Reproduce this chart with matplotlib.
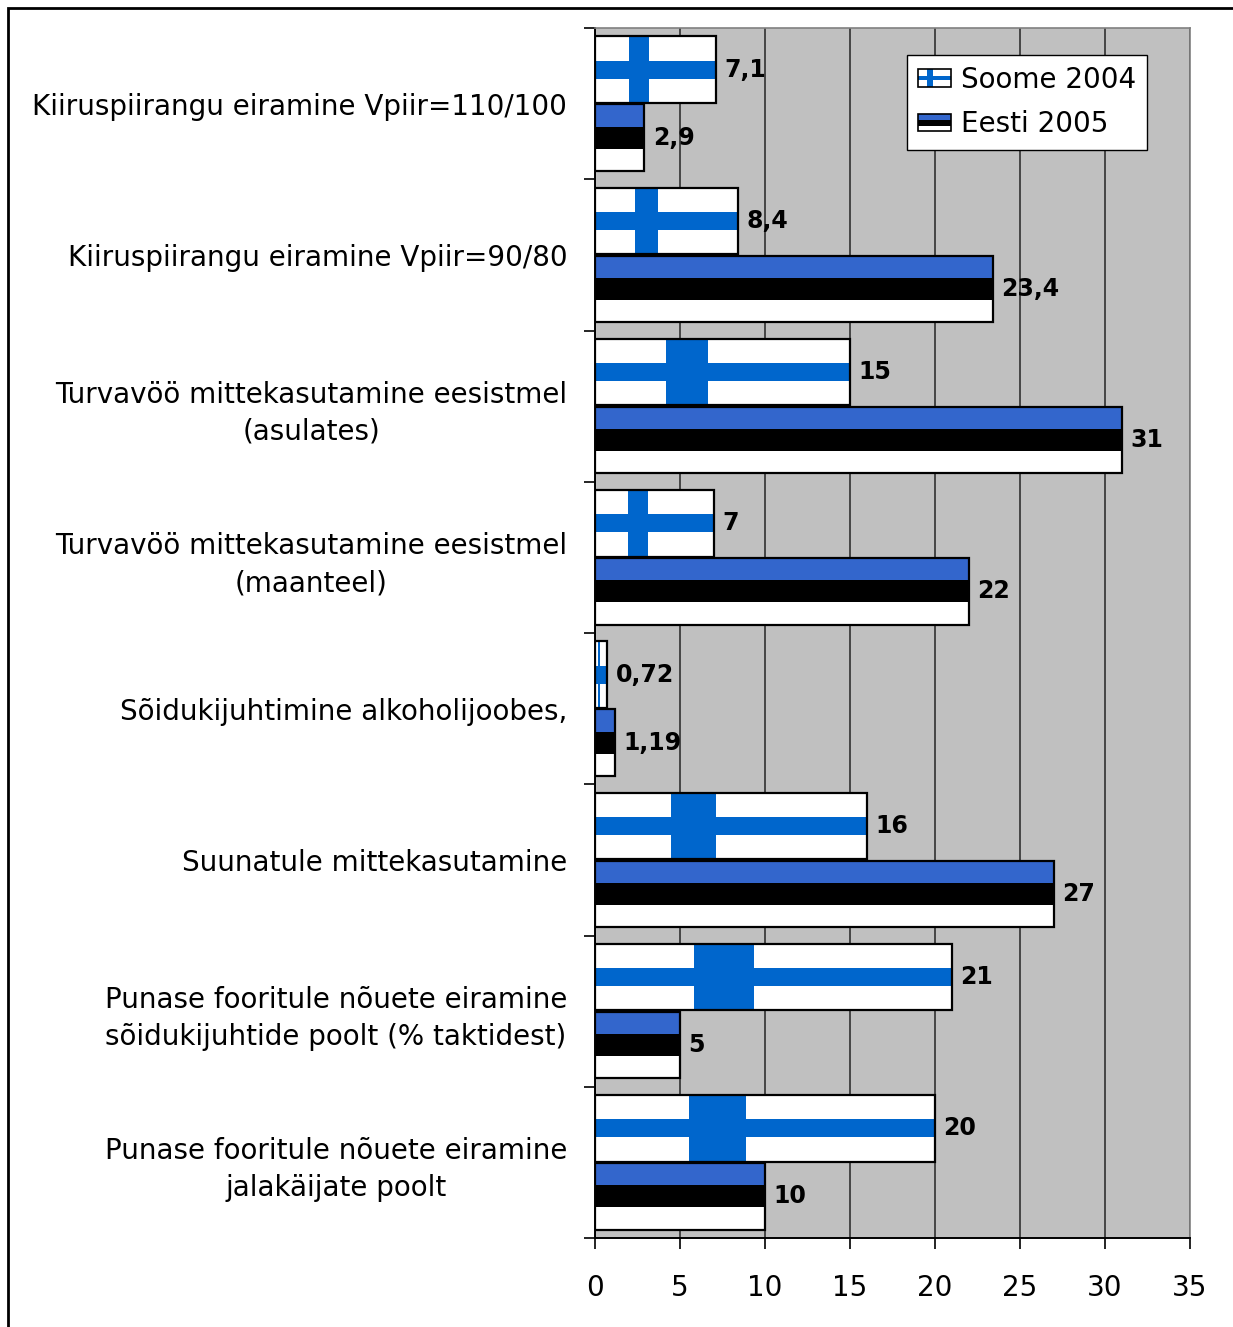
import numpy as np
import matplotlib.pyplot as plt
from matplotlib.patches import Rectangle, Patch
from matplotlib.legend_handler import HandlerBase

plt.rcParams['font.family'] = ['DejaVu Sans']

# Data
categories = [
    "Kiiruspiirangu eiramine Vpiir=110/100",
    "Kiiruspiirangu eiramine Vpiir=90/80",
    "Turvavöö mittekasutamine eesistmel\n(asulates)",
    "Turvavöö mittekasutamine eesistmel\n(maanteel)",
    "Sõidukijuhtimine alkoholijoobes,",
    "Suunatule mittekasutamine",
    "Punase fooritule nõuete eiramine\nsõidukijuhtide poolt (% taktidest)",
    "Punase fooritule nõuete eiramine\njalakäijate poolt",
]
soome = [7.1, 8.4, 15, 7, 0.72, 16, 21, 20]
eesti = [2.9, 23.4, 31, 22, 1.19, 27, 5, 10]
series_names = ["Soome 2004", "Eesti 2005"]

FI_BLUE = "#0066cc"
EE_BLUE = "#3366cc"
h = 0.44
off = 0.225


def fin_flag(ax, yc, v):
    ax.barh(yc, v, height=h, color="white", linewidth=0, zorder=2)
    ax.barh(yc, v, height=h * 3 / 11, color=FI_BLUE, linewidth=0, zorder=3)
    ax.barh(yc, v * 3 / 18, left=v * 5 / 18, height=h, color=FI_BLUE, linewidth=0, zorder=3)
    ax.barh(yc, v, height=h, fill=False, edgecolor="black", linewidth=1.6, zorder=4)


def est_flag(ax, yc, v):
    ax.barh(yc - h / 3, v, height=h / 3, color=EE_BLUE, linewidth=0, zorder=2)
    ax.barh(yc, v, height=h / 3, color="black", linewidth=0, zorder=2)
    ax.barh(yc + h / 3, v, height=h / 3, color="white", linewidth=0, zorder=2)
    ax.barh(yc, v, height=h, fill=False, edgecolor="black", linewidth=1.6, zorder=4)


class FlagHandler(HandlerBase):
    def __init__(self, kind):
        super().__init__()
        self.kind = kind

    def create_artists(self, legend, orig_handle, xdescent, ydescent,
                       width, height, fontsize, trans):
        x0, y0 = -xdescent, -ydescent
        arts = []
        if self.kind == "fi":
            arts.append(Rectangle((x0, y0), width, height, facecolor="white", edgecolor="none"))
            arts.append(Rectangle((x0, y0 + height * 4 / 11), width, height * 3 / 11,
                                  facecolor=FI_BLUE, edgecolor="none"))
            arts.append(Rectangle((x0 + width * 5 / 18, y0), width * 3 / 18, height,
                                  facecolor=FI_BLUE, edgecolor="none"))
        else:
            for k, c in enumerate(["white", "black", EE_BLUE]):
                arts.append(Rectangle((x0, y0 + height * k / 3), width, height / 3,
                                      facecolor=c, edgecolor="none"))
        arts.append(Rectangle((x0, y0), width, height, facecolor="none",
                              edgecolor="black", linewidth=1.2))
        for a in arts:
            a.set_transform(trans)
        return arts


fig = plt.figure(figsize=(12.33, 13.27), dpi=100)
ax = fig.add_axes([595 / 1233, 1 - 1238 / 1327, 595 / 1233, 1210 / 1327])
ax.set_facecolor("#c0c0c0")

y = np.arange(len(categories))
for i in range(len(categories)):
    fin_flag(ax, y[i] - off, soome[i])
    est_flag(ax, y[i] + off, eesti[i])
    for yy, v in [(y[i] - off, soome[i]), (y[i] + off, eesti[i])]:
        ax.text(v + 0.5, yy, f"{v:g}".replace(".", ","), va="center", ha="left",
                fontsize=17, fontweight="bold", zorder=5)

ax.set_xlim(0, 35)
ax.set_ylim(len(categories) - 0.5, -0.5)
ax.set_xticks(np.arange(0, 36, 5))
ax.set_yticks(y)
ax.set_yticklabels(categories, fontsize=20, multialignment="center")
for t in ax.get_yticklabels():
    t.set_linespacing(1.4)
ax.set_yticks(np.arange(len(categories) + 1) - 0.5, minor=True)
ax.tick_params(axis="y", which="major", length=0, pad=20)
ax.tick_params(axis="y", which="minor", length=8, width=1.2, direction="out")
ax.tick_params(axis="x", length=8, width=1.2, direction="out", pad=18, labelsize=20)
ax.xaxis.grid(True, color="#303030", linewidth=1.2)
ax.set_axisbelow(True)
for s in ["top", "right"]:
    ax.spines[s].set_color("#808080")
    ax.spines[s].set_linewidth(1.2)
for s in ["left", "bottom"]:
    ax.spines[s].set_color("black")
    ax.spines[s].set_linewidth(1.4)

h_fi = Patch(label=series_names[0])
h_ee = Patch(label=series_names[1])
leg = ax.legend(handles=[h_fi, h_ee], handler_map={h_fi: FlagHandler("fi"), h_ee: FlagHandler("ee")},
                loc="upper right", bbox_to_anchor=(0.928, 0.978), borderaxespad=0,
                fontsize=20, fancybox=False, framealpha=1, edgecolor="black",
                handlelength=1.2, handleheight=0.6, handletextpad=0.35,
                borderpad=0.4, labelspacing=0.6)
leg.get_frame().set_linewidth(1.0)

# outer border
fig.add_artist(Rectangle((8 / 1233, -0.05), 1.2, 1 - 8 / 1327 + 0.05, transform=fig.transFigure,
                         fill=False, edgecolor="black", linewidth=2))

fig.savefig("out.png", dpi=100)
